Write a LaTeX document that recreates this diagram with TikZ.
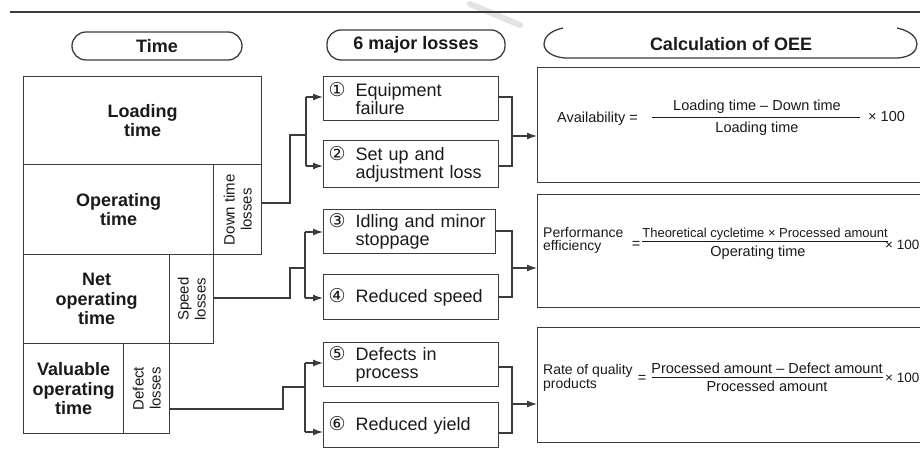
\documentclass[tikz,border=0pt]{standalone}
\usepackage{fontspec}
\setmainfont{Liberation Sans}
\newfontfamily\dejavu{DejaVu Sans}
\usetikzlibrary{arrows.meta}
\definecolor{linec}{HTML}{3C3C3C}
\definecolor{txt}{HTML}{1A1A1A}
\newcommand{\lossnum}[1]{\makebox[27pt][l]{\dejavu\fontsize{19}{18}\selectfont #1}}
\begin{document}
\begin{tikzpicture}[x=1pt,y=-1pt,
  ln/.style={draw=linec, line width=1.3pt},
  arr/.style={-{Latex[length=10pt,width=7pt]}},
  cell/.style={ln, inner sep=0pt, anchor=north west, align=center, text=txt,
    font=\fontsize{18}{19.5}\selectfont\bfseries},
  vlab/.style={rotate=90, align=center, text=txt, inner sep=0pt,
    font=\fontsize{15}{17}\selectfont},
  pill/.style={ln, rounded corners=14pt, text=txt, inner sep=0pt,
    font=\fontsize{18}{18}\selectfont\bfseries},
  lossbox/.style={ln, anchor=north west, align=left, inner xsep=5pt, inner ysep=0pt,
    text=txt, font=\fontsize{18}{18}\selectfont},
  oee/.style={ln, anchor=north west, inner sep=0pt, minimum width=390pt},
  ftxt/.style={text=txt, inner sep=0pt, font=\fontsize{14.5}{14.5}\selectfont},
]
\useasboundingbox (0,0) rectangle (920,454);
% faint scan smear
\draw[gray!22, line width=6pt, line cap=round] (470,4) -- (520,25);
% top rule
\draw[ln] (10,12) -- (920,12);

% column titles
\node[pill, minimum width=170pt, minimum height=28pt] (timeT) at (157,46) {Time};
\node[pill, minimum width=178pt, minimum height=30pt] (lossT) at (416,45) {6 major losses};
\draw[ln] (563,28) .. controls (549,31) and (544,38) .. (544,44)
  .. controls (544,51) and (552,57) .. (565,58) -- (898,58)
  .. controls (911,57) and (917,51) .. (917,44)
  .. controls (917,38) and (911,31) .. (897,28);
\node[text=txt, font=\fontsize{18}{18}\selectfont\bfseries] (oeeT) at (731,44) {Calculation of OEE};

% time blocks
\node[cell, minimum width=238pt, minimum height=88pt] (load) at (23,76) {Loading\\time};
\node[cell, minimum width=190pt, minimum height=90pt] (oper) at (23,164) {Operating\\time};
\node[cell, minimum width=48pt, minimum height=90pt] (down) at (213,164) {};
\node[cell, minimum width=146pt, minimum height=89pt] (net) at (23,254) {Net\\operating\\time};
\node[cell, minimum width=44pt, minimum height=89pt] (speed) at (169,254) {};
\node[cell, minimum width=100pt, minimum height=90pt] (valu) at (23,343) {Valuable\\operating\\time};
\node[cell, minimum width=46pt, minimum height=90pt] (defect) at (123,343) {};
\node[vlab] (downL) at (down.center) {Down time\\losses};
\node[vlab] (speedL) at (speed.center) {Speed\\losses};
\node[vlab] (defectL) at (defect.center) {Defect\\losses};

% loss boxes
\node[lossbox, text width=165pt, minimum height=44pt] (l1) at (323,76)
  {\lossnum{①}Equipment\\\hspace*{27pt}failure};
\node[lossbox, text width=165pt, minimum height=47pt] (l2) at (323,140)
  {\lossnum{②}Set up and\\\hspace*{27pt}adjustment loss};
\node[lossbox, text width=162pt, minimum height=44pt] (l3) at (323,209)
  {\lossnum{③}Idling and minor\\\hspace*{27pt}stoppage};
\node[lossbox, text width=165pt, minimum height=45pt] (l4) at (323,274)
  {\lossnum{④}Reduced speed};
\node[lossbox, text width=165pt, minimum height=44pt] (l5) at (323,342)
  {\lossnum{⑤}Defects in\\\hspace*{27pt}process};
\node[lossbox, text width=165pt, minimum height=45pt] (l6) at (323,402)
  {\lossnum{⑥}Reduced yield};

% OEE boxes
\node[oee, minimum height=115pt] (oeeA) at (537,67) {};
\node[oee, minimum height=113pt] (oeeB) at (537,194) {};
\node[oee, minimum height=115pt] (oeeC) at (537,327) {};

% left connectors
\draw[ln] (down.east |- 0,203) -- (290,203) |- (306,135);
\draw[ln] (306,97) -- (306,166);
\draw[ln,arr] (306,97) -- (l1.west |- 0,97);
\draw[ln,arr] (306,166) -- (l2.west |- 0,166);

\draw[ln] (speed.east |- 0,298) -- (290,298) |- (305,268);
\draw[ln] (305,232) -- (305,298);
\draw[ln,arr] (305,232) -- (l3.west |- 0,232);
\draw[ln,arr] (305,298) -- (l4.west |- 0,298);

\draw[ln] (defect.east |- 0,409) -- (283,409) |- (305,387);
\draw[ln] (305,363) -- (305,432);
\draw[ln,arr] (305,363) -- (l5.west |- 0,363);
\draw[ln,arr] (305,432) -- (l6.west |- 0,432);

% right connectors
\draw[ln] (l1.east |- 0,97) -| (512,166) -- (l2.east |- 0,166);
\draw[ln,arr] (512,136) -- (oeeA.west |- 0,136);
\draw[ln] (l3.east |- 0,231) -| (512,297) -- (l4.east |- 0,297);
\draw[ln,arr] (512,268) -- (oeeB.west |- 0,268);
\draw[ln] (l5.east |- 0,367) -| (512,433) -- (l6.east |- 0,433);
\draw[ln,arr] (512,404) -- (oeeC.west |- 0,404);

% formula: availability
\node[ftxt, anchor=base west] (avL) at (557,123) {Availability =};
\node[ftxt, anchor=base] (avN) at (757,111) {Loading time – Down time};
\node[ftxt, anchor=base] (avD) at (757,133) {Loading time};
\draw[line width=0.9pt, txt] (652,117) -- (860,117);
\node[ftxt, anchor=base west] (avX) at (868,122) {× 100};

% formula: performance
\node[ftxt, anchor=base west, font=\fontsize{14}{14}\selectfont] (peL1) at (543,238) {Performance};
\node[ftxt, anchor=base west, font=\fontsize{14}{14}\selectfont] (peL2) at (543,251) {efficiency};
\node[ftxt, anchor=base] (peEq) at (636,248) {=};
\node[ftxt, anchor=base, font=\fontsize{13}{13}\selectfont] (peN) at (765,237) {Theoretical cycletime × Processed amount};
\node[ftxt, anchor=base] (peD) at (758,257) {Operating time};
\draw[line width=0.9pt, txt] (642,241) -- (888,241);
\node[ftxt, anchor=base west, font=\fontsize{13.5}{13.5}\selectfont] (peX) at (885,249) {× 100};

% formula: quality
\node[ftxt, anchor=base west, font=\fontsize{14}{14}\selectfont] (quL1) at (543,374) {Rate of quality};
\node[ftxt, anchor=base west, font=\fontsize{14}{14}\selectfont] (quL2) at (543,388) {products};
\node[ftxt, anchor=base] (quEq) at (642,382) {=};
\node[ftxt, anchor=base] (quN) at (767,373) {Processed amount – Defect amount};
\node[ftxt, anchor=base] (quD) at (767,391) {Processed amount};
\draw[line width=0.9pt, txt] (652,377) -- (883,377);
\node[ftxt, anchor=base west, font=\fontsize{13.5}{13.5}\selectfont] (quX) at (885,382) {× 100};
\end{tikzpicture}
\end{document}
